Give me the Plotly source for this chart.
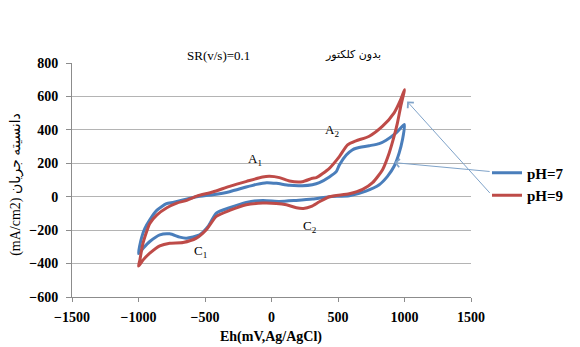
import plotly.graph_objects as go

# ---- data (Eh in mV, current density in mA/cm2) ----
# pH = 7 : forward (anodic) sweep -1000 -> 1000
ph7_fwd_x = [-1000, -990, -975, -952, -915, -863, -790, -742, -667, -562, -442, -315, -190, -112, -37, 37, 135, 232, 307, 360, 435, 487, 510, 562, 607, 637, 735, 810, 862, 935, 1000]
ph7_fwd_y = [-340, -290, -240, -190, -138, -82, -42, -34, -20, 0, 12, 30, 58, 74, 84, 80, 68, 66, 72, 84, 118, 150, 190, 250, 280, 290, 305, 318, 338, 380, 432]
# pH = 7 : reverse (cathodic) sweep 1000 -> -1000
ph7_rev_x = [1000, 985, 960, 922, 872, 810, 710, 585, 435, 310, 185, 60, -65, -190, -315, -415, -477, -540, -640, -690, -765, -840, -915, -965, -1000]
ph7_rev_y = [432, 342, 262, 182, 122, 72, 34, 6, 0, -14, -22, -28, -22, -34, -66, -98, -178, -228, -248, -242, -222, -228, -268, -308, -340]

# pH = 9 : forward sweep
ph9_fwd_x = [-1000, -990, -967, -915, -863, -787, -712, -637, -562, -442, -315, -187, -67, -15, 60, 135, 232, 307, 337, 435, 510, 572, 635, 735, 835, 922, 972, 1000]
ph9_fwd_y = [-415, -380, -280, -160, -110, -66, -38, -22, 4, 28, 62, 92, 118, 122, 114, 94, 90, 110, 114, 170, 240, 310, 334, 362, 422, 502, 582, 640]
# pH = 9 : reverse sweep
ph9_rev_x = [1000, 972, 947, 922, 885, 835, 760, 685, 585, 435, 360, 300, 240, 187, 112, 35, -65, -190, -315, -415, -490, -565, -665, -765, -840, -915, -965, -1000]
ph9_rev_y = [640, 542, 442, 362, 262, 162, 84, 44, 18, 0, -30, -58, -70, -66, -48, -40, -38, -48, -82, -118, -198, -248, -274, -278, -294, -338, -378, -415]

series_names = ["pH=7", "pH=9"]
x_ticks = [-1500, -1000, -500, 0, 500, 1000, 1500]
y_ticks = [-600, -400, -200, 0, 200, 400, 600, 800]

blue = "#4a7ebb"
red = "#be4b48"
serif = "Liberation Serif, Times New Roman, DejaVu Sans"

fig = go.Figure()
fig.add_trace(go.Scatter(x=ph7_fwd_x + ph7_rev_x[1:], y=ph7_fwd_y + ph7_rev_y[1:],
                         mode="lines", name=series_names[0],
                         line=dict(color=blue, width=3, shape="spline", smoothing=0.6)))
fig.add_trace(go.Scatter(x=ph9_fwd_x + ph9_rev_x[1:], y=ph9_fwd_y + ph9_rev_y[1:],
                         mode="lines", name=series_names[1],
                         line=dict(color=red, width=3, shape="spline", smoothing=0.6)))

fig.update_layout(
    width=580, height=347,
    margin=dict(l=72, r=108, t=63, b=50),
    paper_bgcolor="white", plot_bgcolor="white",
    showlegend=True,
    legend=dict(x=1.0375, y=0.60, xanchor="left", yanchor="top",
                font=dict(family=serif, size=15, color="black", weight="bold"),
                bgcolor="rgba(0,0,0,0)", traceorder="normal"),
    xaxis=dict(range=[-1500, 1500], tickvals=x_ticks, showgrid=False, zeroline=False,
               showline=True, linecolor="#8c8c8c", linewidth=1,
               ticks="outside", ticklen=4, tickcolor="#8c8c8c", ticklabelstandoff=3,
               tickfont=dict(family=serif, size=14, color="black", weight="bold")),
    yaxis=dict(range=[-600, 800], tickvals=y_ticks, showgrid=True, gridcolor="#b4b4b4",
               gridwidth=1, zeroline=False,
               showline=True, linecolor="#8c8c8c", linewidth=1,
               ticks="outside", ticklen=5, tickcolor="#8c8c8c", ticklabelstandoff=5,
               tickfont=dict(family=serif, size=14, color="black", weight="bold")),
)

anns = [
    dict(text="SR(v/s)=0.1", x=0.3675, y=1.0726, xref="paper", yref="paper",
         showarrow=False, font=dict(family=serif, size=13, color="black")),
    dict(text="بدون کلکتور", x=0.78, y=1.0726, xref="paper", yref="paper",
         showarrow=False, font=dict(family="DejaVu Sans", size=11, color="black")),
    dict(text="(mA/cm2) دانسیته جریان", x=-0.165, y=0.48, xref="paper", yref="paper",
         textangle=-90, showarrow=False,
         font=dict(family=serif, size=14, color="black")),
    dict(text="Eh(mV,Ag/AgCl)", x=0.4975, y=-0.215, xref="paper", yref="paper",
         showarrow=False, font=dict(family=serif, size=14, color="black", weight="bold")),
    dict(text="A<sub>1</sub>", x=-127, y=222, xref="x", yref="y", showarrow=False,
         font=dict(family=serif, size=13, color="black")),
    dict(text="A<sub>2</sub>", x=457, y=396, xref="x", yref="y", showarrow=False,
         font=dict(family=serif, size=13, color="black")),
    dict(text="C<sub>1</sub>", x=-532, y=-330, xref="x", yref="y", showarrow=False,
         font=dict(family=serif, size=13, color="black")),
    dict(text="C<sub>2</sub>", x=292, y=-180, xref="x", yref="y", showarrow=False,
         font=dict(family=serif, size=13, color="black")),
    dict(text="", x=922, y=204, xref="x", yref="y", ax=97, ay=9,
         showarrow=True, arrowhead=4, arrowsize=1.6, arrowwidth=1, arrowcolor="#7fa3c9"),
    dict(text="", x=1020, y=570, xref="x", yref="y", ax=84, ay=93,
         showarrow=True, arrowhead=4, arrowsize=1.6, arrowwidth=1, arrowcolor="#7fa3c9"),
]
fig.update_layout(annotations=anns)

fig.write_html("out.html")
